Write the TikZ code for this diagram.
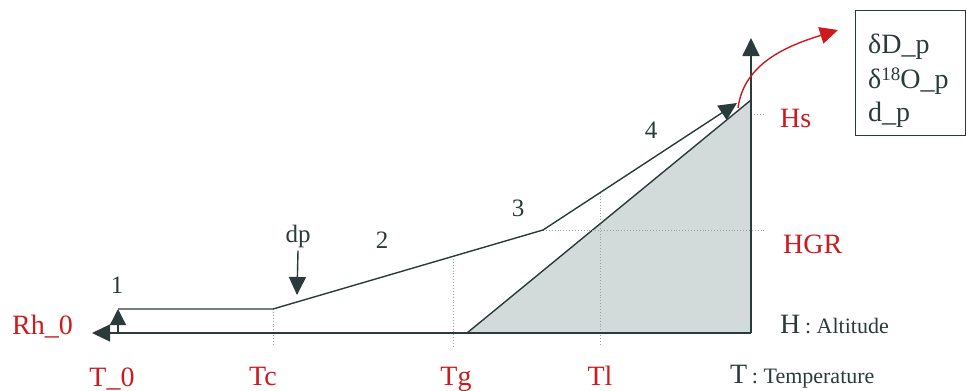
\documentclass[tikz,border=0pt]{standalone}
\usepackage{fontspec}
\setmainfont{Liberation Serif}
\usetikzlibrary{arrows.meta}
\definecolor{ink}{HTML}{2B3A3A}
\definecolor{redl}{HTML}{CC1A1E}
\definecolor{greyfill}{HTML}{D2DADA}
\definecolor{dotc}{HTML}{9AA2A2}
\newcommand{\smalltxt}{\fontsize{22}{24}\selectfont}
\begin{document}
\begin{tikzpicture}[x=1pt,y=-1pt,
  line/.style={draw=ink,line width=1.4pt},
  tip/.style={-{Triangle[length=18pt,width=17pt]}},
  guide/.style={draw=dotc,line width=0.9pt,dotted},
  lab/.style={inner sep=0pt,font=\fontsize{28}{30}\selectfont},
  redlab/.style={lab,text=redl},
  inklab/.style={lab,text=ink},
  numlab/.style={inner sep=0pt,text=ink,font=\fontsize{25}{28}\selectfont}]
\useasboundingbox (0,0) rectangle (967,391);
% key points
\coordinate (O) at (92,333);
\coordinate (B0) at (118,333);
\coordinate (R) at (751,333);
\coordinate (Rtop) at (751,38);
\coordinate (P0) at (118,309);
\coordinate (Pc) at (273,309);
\coordinate (K) at (543,230);
\coordinate (E) at (737,103);
\coordinate (G0) at (467,333);
\coordinate (Gtop) at (751,100);
\coordinate (Pg) at (453,256);
\coordinate (Pl) at (600,193);
% shaded region
\fill[greyfill] (G0) -- (R) -- (Gtop) -- cycle;
\draw[line] (G0) -- (Gtop);
% guides
\draw[guide] (Pc) -- (273,346);
\draw[guide] (Pg) -- (453,346);
\draw[guide] (Pl) -- (600,346);
\draw[guide] (K) -- (764,230);
\draw[guide] (751,114) -- (764,114);
% axes
\draw[line,tip] (R) -- (O);
\draw[line,line width=1.8pt,tip] (R) -- (Rtop);
\draw[line,{Triangle[length=16pt,width=16pt]}-] (P0) -- (B0);
% profile
\draw[line,tip] (P0) -- (Pc) -- (K) -- (E);
% dp arrow
\node[numlab] (dp) at (298,236) {dp};
\coordinate (dpT) at (297,295);
\draw[line,tip] (dp.south) ++(0,3) coordinate (dpS) (dpS) -- (dpT);
% box
\node[draw=ink,line width=1pt,minimum width=110pt,minimum height=125pt,inner sep=0pt,anchor=north west] (box) at (855,10) {};
% red curve
\coordinate (C0) at (738,108);
\coordinate (C1) at (838,30);
\draw[redl,line width=1.4pt,-{Triangle[length=18pt,width=17pt]}] (C0) .. controls (744,62) and (790,45) .. (C1);
% box text
\node[inklab,anchor=base west] (t1) at (868,53) {δD\_p};
\node[inklab,anchor=base west] (t2) at (868,88) {δ\raisebox{0.55ex}{\fontsize{19}{20}\selectfont 18}O\_p};
\node[inklab,anchor=base west] (t3) at (868,121) {d\_p};
% labels
\node[redlab,anchor=base west] (rh) at (12,334) {Rh\_0};
\node[redlab,anchor=base] (t0) at (112,386) {T\_0};
\node[redlab,anchor=base] (tc) at (263,385) {Tc};
\node[redlab,anchor=base] (tg) at (456,385) {Tg};
\node[redlab,anchor=base] (tl) at (600,385) {Tl};
\node[redlab,anchor=base west] (hs) at (780,127) {Hs};
\node[redlab,anchor=base west] (hgr) at (783,253) {HGR};
\node[inklab,anchor=base west] (hal) at (780,333) {H\,{\smalltxt: Altitude}};
\node[inklab,anchor=base west] (tte) at (730,383) {T\,{\smalltxt: Temperature}};
\node[numlab] (n1) at (117,285) {1};
\node[numlab] (n2) at (382,240) {2};
\node[numlab] (n3) at (518,208) {3};
\node[numlab] (n4) at (651,130) {4};
\end{tikzpicture}
\end{document}
